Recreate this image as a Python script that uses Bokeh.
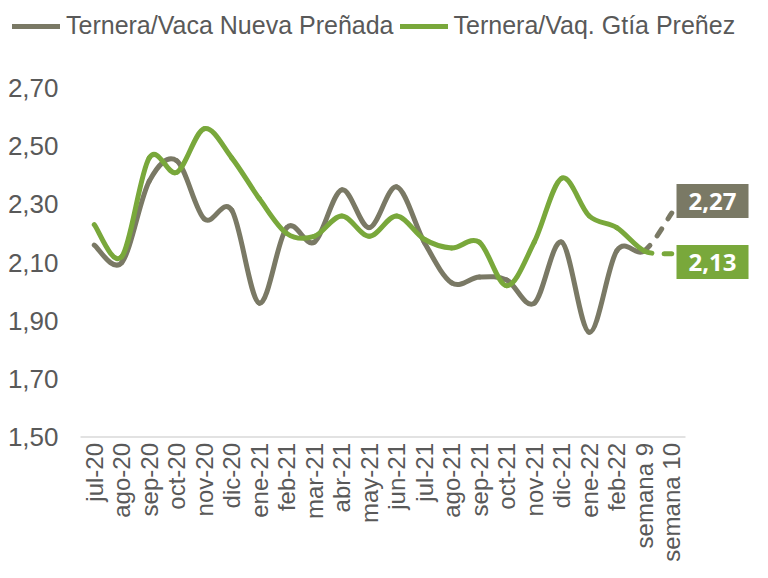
import numpy as np
from bokeh.plotting import figure
from bokeh.models import FixedTicker, Legend, LegendItem, Label, ColumnDataSource
from bokeh.embed import file_html
from bokeh.resources import INLINE

categories = ["jul-20", "ago-20", "sep-20", "oct-20", "nov-20", "dic-20",
              "ene-21", "feb-21", "mar-21", "abr-21", "may-21", "jun-21",
              "jul-21", "ago-21", "sep-21", "oct-21", "nov-21", "dic-21",
              "ene-22", "feb-22", "semana 9", "semana 10"]
vaca_nueva = [2.16, 2.10, 2.38, 2.45, 2.25, 2.28, 1.96, 2.22, 2.17, 2.35, 2.22,
              2.36, 2.17, 2.03, 2.05, 2.04, 1.96, 2.17, 1.86, 2.14, 2.14, 2.27]
vaq_gtia = [2.23, 2.12, 2.46, 2.41, 2.56, 2.46, 2.32, 2.20, 2.19, 2.26, 2.19,
            2.26, 2.18, 2.15, 2.17, 2.02, 2.17, 2.39, 2.26, 2.22, 2.14, 2.13]
series_names = ["Ternera/Vaca Nueva Preñada", "Ternera/Vaq. Gtía Preñez"]
y_ticks = [1.50, 1.70, 1.90, 2.10, 2.30, 2.50, 2.70]
y_tick_labels = ["1,50", "1,70", "1,90", "2,10", "2,30", "2,50", "2,70"]

GRAY = "#7A7965"
GREEN = "#79A83B"
TXT = "#595959"


def bezier_source(ys, start, stop):
    n = len(ys)
    d = dict(x0=[], y0=[], x1=[], y1=[], cx0=[], cy0=[], cx1=[], cy1=[])
    for i in range(start, stop):
        i0 = max(i - 1, 0)
        i3 = min(i + 2, n - 1)
        d["x0"].append(i)
        d["y0"].append(ys[i])
        d["x1"].append(i + 1)
        d["y1"].append(ys[i + 1])
        d["cx0"].append(i + (i + 1 - i0) / 6)
        d["cy0"].append(ys[i] + (ys[i + 1] - ys[i0]) / 6)
        d["cx1"].append(i + 1 - (i3 - i) / 6)
        d["cy1"].append(ys[i + 1] - (ys[i3] - ys[i]) / 6)
    return ColumnDataSource(d)


n = len(categories)
W, H = 752, 562
# the plotting area occupies the whole figure; axes are drawn at fixed locations
px_per_cat = 27.5          # horizontal pixels per category
px_per_unit = 290.8        # vertical pixels per 1.00 of price
left_px = 80               # left edge of first category slot, from figure left
base_px = 436.5            # baseline (1,50) from figure top
x_start = -0.5 - left_px / px_per_cat
x_end = x_start + W / px_per_cat
y_end = y_ticks[0] + base_px / px_per_unit
y_start = y_end - H / px_per_unit

p = figure(width=W, height=H, x_range=(x_start, x_end), y_range=(y_start, y_end),
           output_backend="svg", toolbar_location=None, min_border=0)
p.xgrid.visible = False
p.ygrid.visible = False
p.outline_line_color = None

# category axis baseline (only as wide as the categories)
p.segment(x0=[-0.5], y0=[y_ticks[0]], x1=[n - 0.5], y1=[y_ticks[0]],
          line_color="#D9D9D9", line_width=1.5)

solid = []
for ys, color in [(vaca_nueva, GRAY), (vaq_gtia, GREEN)]:
    solid.append(p.bezier(x0="x0", y0="y0", x1="x1", y1="y1", cx0="cx0", cy0="cy0",
                          cx1="cx1", cy1="cy1", source=bezier_source(ys, 0, n - 2),
                          line_color=color, line_width=5, line_cap="round"))
    p.bezier(x0="x0", y0="y0", x1="x1", y1="y1", cx0="cx0", cy0="cy0", cx1="cx1", cy1="cy1",
             source=bezier_source(ys, n - 2, n - 1), line_color=color, line_width=5,
             line_cap="round", line_dash="8 12")

legend = Legend(items=[LegendItem(label=series_names[0], renderers=[solid[0]]),
                       LegendItem(label=series_names[1], renderers=[solid[1]])],
                orientation="horizontal", location=(12, H - 40), glyph_width=48, glyph_height=20,
                label_standoff=6, spacing=6, padding=0, margin=0,
                border_line_alpha=0, background_fill_alpha=0,
                label_text_font="Liberation Sans", label_text_font_size="25px",
                label_text_color=TXT)
p.add_layout(legend, "center")

# y axis (drawn at the left edge of the first category slot)
p.yaxis.fixed_location = -0.5
p.yaxis.ticker = FixedTicker(ticks=y_ticks)
p.yaxis.major_label_overrides = dict(zip(y_ticks, y_tick_labels))
p.yaxis.axis_line_color = None
p.yaxis.major_tick_line_color = None
p.yaxis.minor_tick_line_color = None
p.yaxis.major_tick_out = 0
p.yaxis.major_tick_in = 0
p.yaxis.major_label_text_font = "Liberation Sans"
p.yaxis.major_label_text_font_size = "26px"
p.yaxis.major_label_text_color = TXT
p.yaxis.major_label_standoff = 22

# x axis (drawn at the 1,50 baseline)
p.xaxis.fixed_location = y_ticks[0]
p.xaxis.ticker = FixedTicker(ticks=list(range(n)))
p.xaxis.major_label_overrides = {i: c for i, c in enumerate(categories)}
p.xaxis.major_label_orientation = np.pi / 2
p.xaxis.axis_line_color = None
p.xaxis.major_tick_line_color = None
p.xaxis.minor_tick_line_color = None
p.xaxis.major_tick_out = 0
p.xaxis.major_tick_in = 0
p.xaxis.major_label_text_font = "Liberation Sans"
p.xaxis.major_label_text_font_size = "24px"
p.xaxis.major_label_text_color = TXT
p.xaxis.major_label_standoff = 6

# end value labels
for ys, color, dy in [(vaca_nueva, GRAY, 0.0416), (vaq_gtia, GREEN, -0.0282)]:
    p.add_layout(Label(x=n - 1 + 0.173, y=ys[-1] + dy, text=f"{ys[-1]:.2f}".replace(".", ","),
                       text_align="left", text_baseline="middle",
                       text_font="Open Sans", text_font_style="bold", text_font_size="24px",
                       text_color="white", background_fill_color=color,
                       padding=dict(left=12, right=12, top=9, bottom=8)))

open("out.html", "w").write(file_html(p, INLINE))
